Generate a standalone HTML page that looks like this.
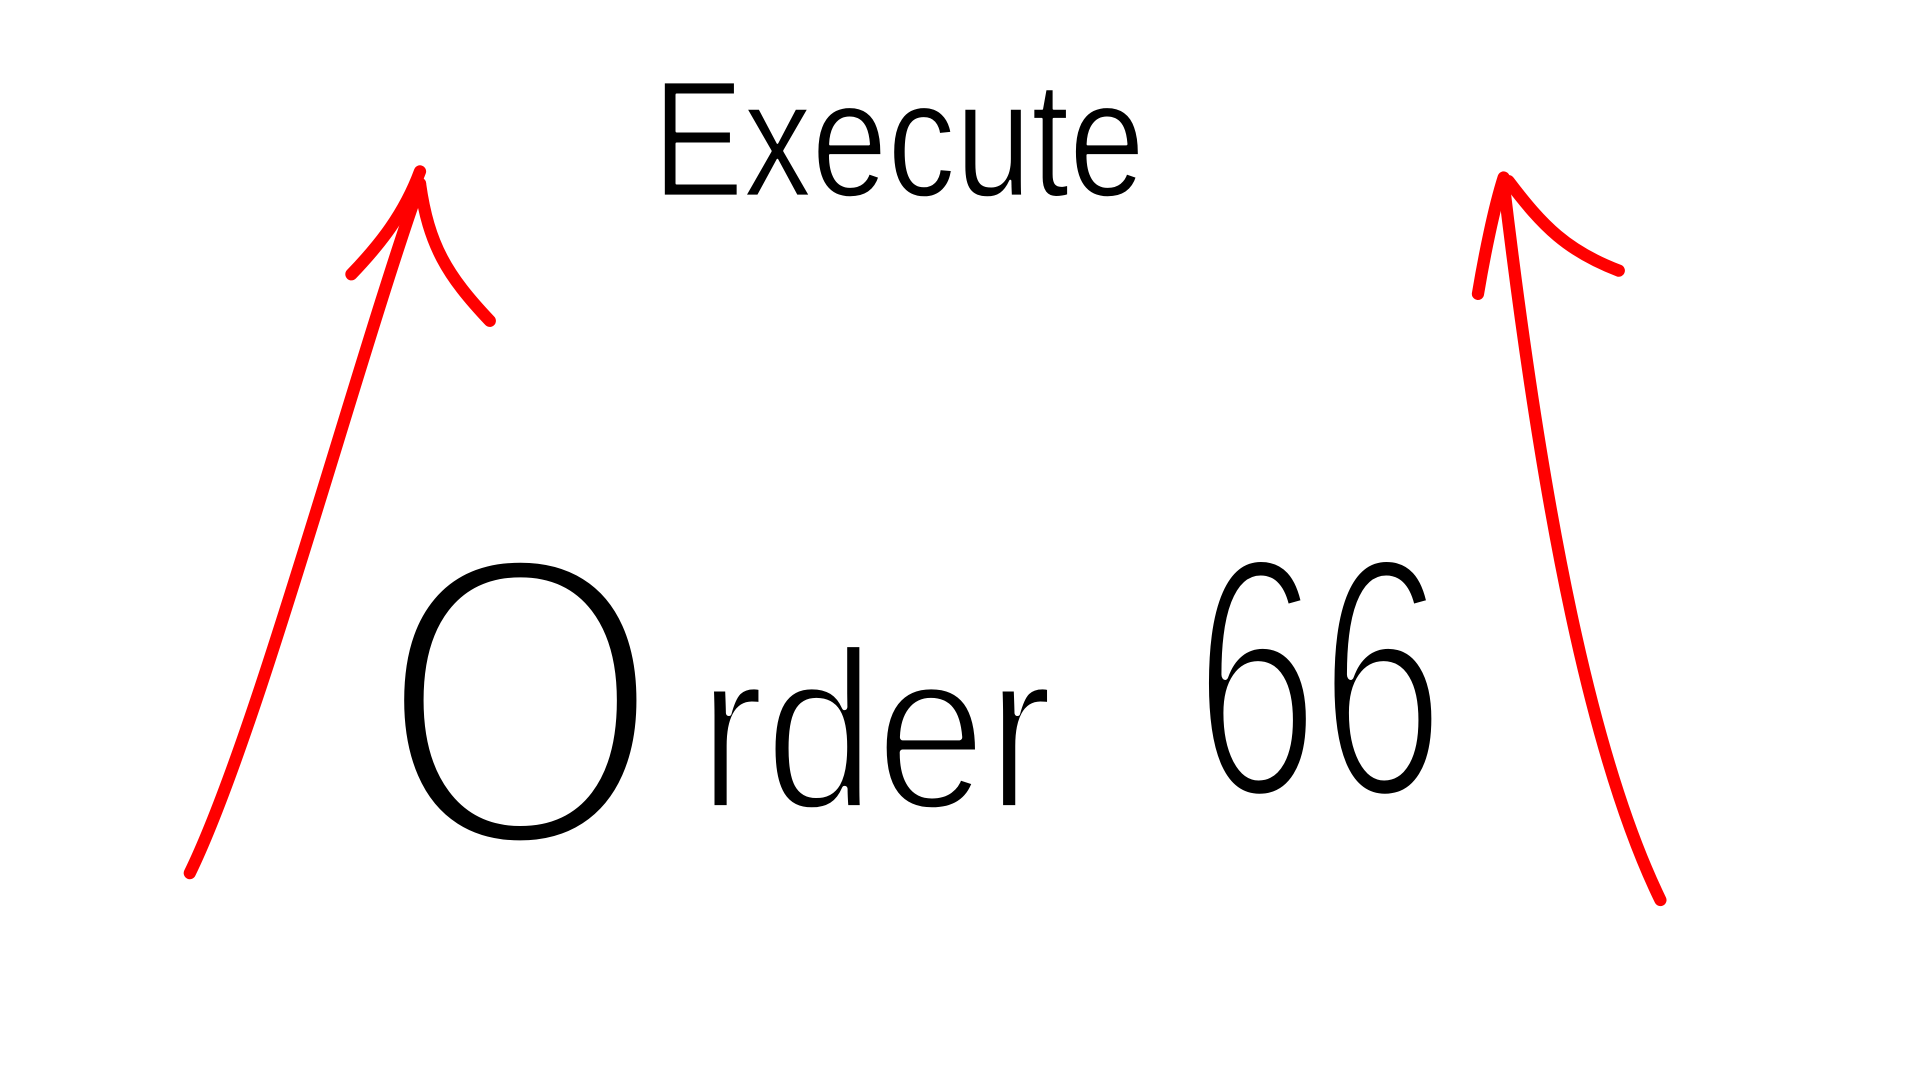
<!DOCTYPE html>
<html>
<head>
<meta charset="utf-8">
<style>
  html,body{margin:0;padding:0;background:#fff;}
  svg{display:block;}
</style>
</head>
<body>
<svg width="1920" height="1080" viewBox="0 0 1568 882" xmlns="http://www.w3.org/2000/svg">
  <rect width="1568" height="882" fill="#fff"/>
  <g fill="none" stroke="#f00" stroke-width="10" stroke-linecap="round" stroke-linejoin="round">
    <path d="M155 713 C 210 600, 290 300, 343 150"/>
    <path d="M343 140 C 330 175, 310 200, 287 224"/>
    <path d="M343 150 C 350 200, 365 225, 400 262"/>
    <path d="M1356 735 C 1300 620, 1260 420, 1228 150"/>
    <path d="M1228 145 C 1220 170, 1212 210, 1207 240"/>
    <path d="M1232 148 C 1260 185, 1280 205, 1322 221"/>
  </g>
  <g font-family="'Liberation Sans', sans-serif" fill="#000" stroke="#fff" stroke-linejoin="round">
    <text x="533" y="160" font-size="135" stroke-width="2" textLength="402" lengthAdjust="spacingAndGlyphs">Execute</text>
    <text x="310" y="690" font-size="340" stroke-width="14" textLength="230" lengthAdjust="spacingAndGlyphs">O</text>
    <text x="570" y="660" font-size="185" stroke-width="5" textLength="290" lengthAdjust="spacingAndGlyphs">rder</text>
    <text x="975" y="650" font-size="280" stroke-width="9" textLength="205" lengthAdjust="spacingAndGlyphs">66</text>
  </g>
</svg>
</body>
</html>
